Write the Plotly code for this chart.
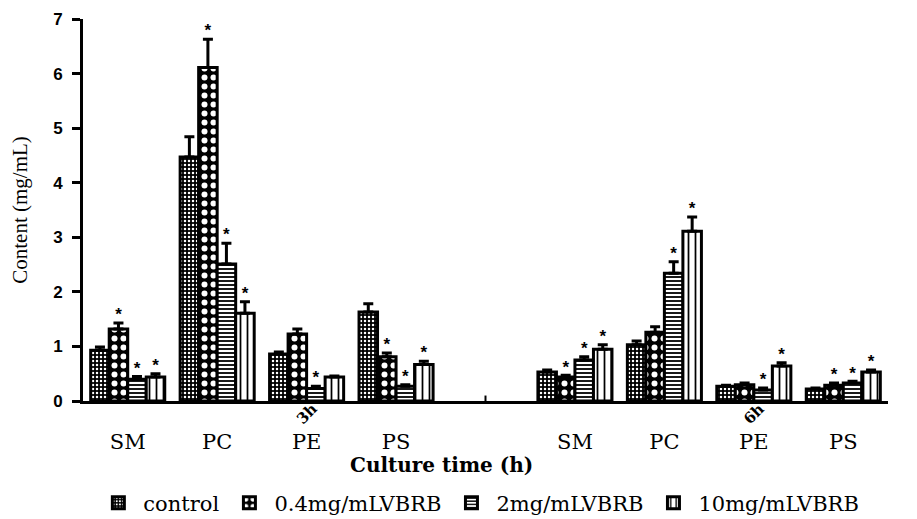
import plotly.graph_objects as go

# ---- data ----
lipids = ["SM", "PC", "PE", "PS"]
times = ["3h", "6h"]
series = ["control", "0.4mg/mLVBRB", "2mg/mLVBRB", "10mg/mLVBRB"]
x_title = "Culture time (h)"
y_title = "Content (mg/mL)"

# values per series: 3h SM,PC,PE,PS then 6h SM,PC,PE,PS
values = {
    "control":      [0.93, 4.47, 0.86, 1.63, 0.53, 1.03, 0.27, 0.22],
    "0.4mg/mLVBRB": [1.32, 6.11, 1.23, 0.81, 0.44, 1.26, 0.30, 0.29],
    "2mg/mLVBRB":   [0.40, 2.51, 0.23, 0.27, 0.75, 2.34, 0.20, 0.33],
    "10mg/mLVBRB":  [0.44, 1.61, 0.44, 0.67, 0.95, 3.11, 0.64, 0.53],
}
errors = {
    "control":      [0.06, 0.37, 0.04, 0.15, 0.04, 0.07, 0.02, 0.02],
    "0.4mg/mLVBRB": [0.11, 0.52, 0.09, 0.07, 0.03, 0.10, 0.03, 0.04],
    "2mg/mLVBRB":   [0.05, 0.38, 0.04, 0.03, 0.06, 0.21, 0.04, 0.03],
    "10mg/mLVBRB":  [0.06, 0.21, 0.02, 0.06, 0.08, 0.26, 0.06, 0.04],
}
significant = {
    "control":      [0, 0, 0, 0, 0, 0, 0, 0],
    "0.4mg/mLVBRB": [1, 1, 0, 1, 1, 0, 0, 1],
    "2mg/mLVBRB":   [1, 1, 1, 1, 1, 1, 1, 1],
    "10mg/mLVBRB":  [1, 1, 0, 1, 1, 1, 1, 1],
}

# ---- styling ----
patterns = {
    "control":      dict(shape=".", bgcolor="black", fgcolor="white", size=4, solidity=0.3, fillmode="replace"),
    "0.4mg/mLVBRB": dict(shape=".", bgcolor="black", fgcolor="white", size=9, solidity=0.35, fillmode="replace"),
    "2mg/mLVBRB":   dict(shape="-", bgcolor="white", fgcolor="black", size=4, solidity=0.45, fillmode="replace"),
    "10mg/mLVBRB":  dict(shape="|", bgcolor="white", fgcolor="black", size=7, solidity=0.25, fillmode="replace"),
}

# slot positions: 4 lipids at 3h, empty slot, 4 lipids at 6h
slots = [0, 1, 2, 3, 5, 6, 7, 8]
bar_w = 0.207

fig = go.Figure()
for i, s in enumerate(series):
    off = (i - 1.5) * bar_w
    xs = [p + off for p in slots]
    fig.add_trace(go.Bar(
        x=xs, y=values[s], width=bar_w, name=s,
        marker=dict(color="white", line=dict(color="black", width=3), pattern=patterns[s]),
        error_y=dict(type="data", symmetric=False, array=errors[s],
                     arrayminus=[0] * len(values[s]), color="black", thickness=3, width=5),
    ))
    sx = [x for x, f in zip(xs, significant[s]) if f]
    sy = [v + e + 0.13 for v, e, f in zip(values[s], errors[s], significant[s]) if f]
    fig.add_trace(go.Scatter(
        x=sx, y=sy, mode="text", text=["*"] * len(sx), showlegend=False,
        textfont=dict(family="Liberation Sans", size=17, color="black", weight="bold"),
        hoverinfo="skip", cliponaxis=False,
    ))

# time annotations (rotated)
for t, p in zip(times, [slots[2], slots[6]]):
    fig.add_annotation(x=p, y=-0.033, xref="x", yref="paper", text=t, showarrow=False,
                       textangle=-45, yanchor="middle", xanchor="center",
                       font=dict(family="DejaVu Serif", size=15, color="black", weight="bold"))

# x-axis title
fig.add_annotation(x=0.445, y=-0.1675, xref="paper", yref="paper", text=x_title, showarrow=False,
                   yanchor="middle", xanchor="center",
                   font=dict(family="DejaVu Serif", size=20, color="black", weight="bold"))

# separator tick at empty slot
fig.add_shape(type="line", x0=4, x1=4, y0=0, y1=0.1, xref="x", yref="y",
              line=dict(color="black", width=2))

# page body has an 8px margin, so the figure is 8px smaller than the window
fig.update_layout(
    width=909, height=511,
    margin=dict(l=75, r=29, t=11, b=118, autoexpand=False),
    plot_bgcolor="white", paper_bgcolor="white",
    showlegend=True,
    legend=dict(orientation="h", x=0.518, xref="container", xanchor="center",
                y=0.031, yref="container", yanchor="middle",
                font=dict(family="DejaVu Serif", size=21, color="black"),
                itemwidth=40, traceorder="normal"),
    bargap=0.16,
)
fig.update_xaxes(
    range=[-0.5, 8.5], tickmode="array", tickvals=slots,
    ticktext=lipids + lipids, ticks="", showgrid=False, zeroline=False,
    showline=True, linecolor="black", linewidth=3, automargin=False,
    tickfont=dict(family="DejaVu Serif", size=21, color="black"),
    ticklabelstandoff=20,
)
fig.update_yaxes(
    range=[0, 7], dtick=1, ticks="outside", ticklen=8, tickwidth=2.5, tickcolor="black",
    showgrid=False, zeroline=False, showline=True, linecolor="black", linewidth=3,
    automargin=False, ticklabelstandoff=6,
    tickfont=dict(family="Liberation Sans", size=17, color="black", weight="bold"),
    title=dict(text=y_title, standoff=23,
               font=dict(family="Liberation Serif", size=21, color="black")),
)

fig.write_html("out.html")
